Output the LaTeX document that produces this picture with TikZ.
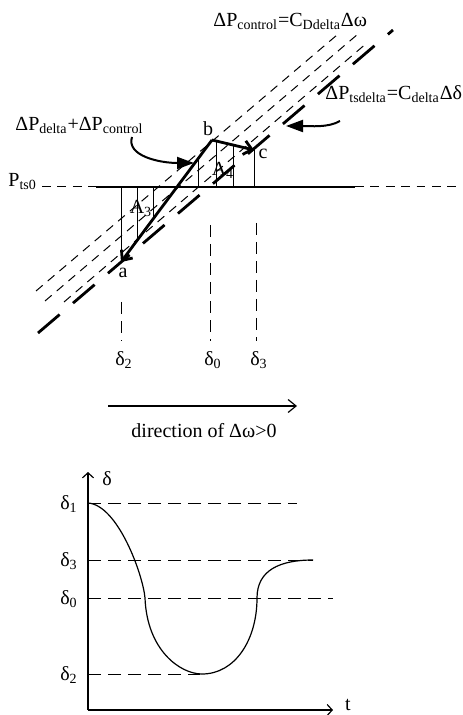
\documentclass[tikz,border=0pt]{standalone}
\usepackage{fontspec}
\setmainfont{Liberation Serif}
\usetikzlibrary{arrows.meta, calc}

\begin{document}
\begin{tikzpicture}[x=0.5pt, y=-0.5pt, every node/.style={inner sep=0pt},
  band/.style={line width=0.5pt, dash pattern=on 4.4pt off 3.3pt},
  tsline/.style={line width=1.4pt, dash pattern=on 14.2pt off 8.8pt},
  guide/.style={line width=0.5pt, dash pattern=on 6pt off 3.5pt},
  level/.style={line width=0.5pt, dash pattern=on 6.5pt off 3.5pt},
  hatch/.style={line width=0.5pt},
  move/.style={line width=1.4pt, -{Straight Barb[length=4pt,width=7pt]}},
  pointer/.style={line width=1pt, -{Triangle[length=8.5pt,width=6pt]}},
  axis/.style={line width=0.6pt, -{Straight Barb[length=2.5pt,width=5.5pt]}}]
  \useasboundingbox (0,0) rectangle (462,715);

  \coordinate (a) at (121,262);
  \coordinate (b) at (212,140);
  \coordinate (c) at (254,150);
  \coordinate (base) at (0,187);

  \foreach \xa/\ya/\xb/\yb in {36/291/337/35, 45/301/358/34, 64/302/368/42}
    \draw[band] (\xa,\ya) -- (\xb,\yb);
  \draw[tsline] (38,333) -- (393,30);

  \node[anchor=base west] (pts) at (8,187) {P\textsubscript{ts0}};
  \draw[band] (42,187) -- (96,187);
  \draw[line width=1pt] (96,187) -- (355,187);
  \draw[band] (355,187) -- (462,187);

  \draw[hatch] (a) -- (a |- base);
  \draw[hatch] (c) -- (c |- base);
  \foreach \x/\y in {137/240.5, 153/219, 198/158.8, 216/141, 233/145}
    \draw[hatch] (\x,\y) -- (\x,187);

  \draw[move] (b) -- (a);
  \draw[move] (b) -- (c);

  \node (la) at (123,273) {a};
  \node (lb) at (208,129) {b};
  \node (lc) at (263,154) {c};
  \node (A3) at (141,208) {A\textsubscript{3}};
  \node (A4) at (223,170) {A\textsubscript{4}};

  \node[anchor=base west] (ctl) at (213,27) {ΔP\textsubscript{control}=C\textsubscript{Ddelta}Δω};
  \node[anchor=base west] (tsd) at (325,100) {ΔP\textsubscript{tsdelta}=C\textsubscript{delta}Δδ};
  \node[anchor=base west] (dpl) at (15,131) {ΔP\textsubscript{delta}+ΔP\textsubscript{control}};

  \coordinate (tsfrom) at (340,121);
  \coordinate (tstip) at (286,126);
  \draw[pointer] (tsfrom) .. controls (328,128) and (310,126) .. (tstip);
  \coordinate (dpfrom) at (132,137);
  \coordinate (dptip) at (194,163);
  \draw[pointer] (dpfrom) .. controls (126,156) and (160,163) .. (dptip);

  \foreach \x/\top/\lab in {121/302/2, 210/225/0, 256/223/3} {
    \draw[guide] (\x,\top) -- (\x,341);
    \node (d\lab) at (\x+3,360) {δ\textsubscript{\lab}};
  }

  \coordinate (dirfrom) at (108,406);
  \coordinate (dirto) at (297,406);
  \draw[line width=0.6pt, -{Straight Barb[length=4pt,width=6.5pt]}] (dirfrom) -- (dirto);
  \node (dir) at (204,431) {direction of Δω>0};

  \coordinate (O) at (88,710);
  \draw[axis] (O) -- (88,472);
  \draw[axis] (O) -- (333,710);
  \node (dl) at (107,479) {δ};
  \node (tl) at (348,705) {t};

  \foreach \y/\len/\lab in {503/297/1, 560/313/3, 598/333/0, 674/200/2} {
    \draw[level] (88,\y) -- (\len,\y);
    \node (s\lab) at (69,\y+1) {δ\textsubscript{\lab}};
  }

  \draw[line width=0.6pt] (88,503) .. controls (118,505) and (143,575) .. (145,598)
    .. controls (147,650) and (180,674) .. (202,674)
    .. controls (235,674) and (257,640) .. (257,598)
    .. controls (257,570) and (280,560) .. (313,560);
\end{tikzpicture}
\end{document}
